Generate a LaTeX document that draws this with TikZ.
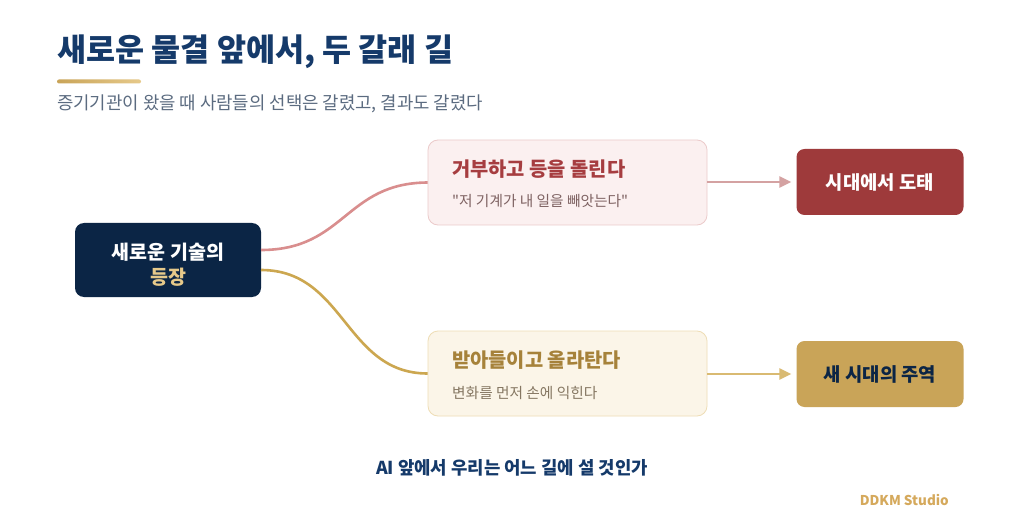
\documentclass[tikz,border=0pt]{standalone}
\usepackage{fontspec}
\setmainfont{Noto Sans CJK KR}[Ligatures=TeXOff]
\usetikzlibrary{arrows.meta}
\definecolor{navy}{HTML}{0B2545}
\definecolor{titleblue}{HTML}{153A6A}
\definecolor{subgray}{HTML}{5B6B80}
\definecolor{gold}{HTML}{C9A458}
\definecolor{goldlight}{HTML}{E6C98A}
\definecolor{redtxt}{HTML}{A63D40}
\definecolor{redfill}{HTML}{FBF0F0}
\definecolor{redline}{HTML}{EBCACA}
\definecolor{redbox}{HTML}{9E3A3B}
\definecolor{redcurve}{HTML}{D98E8E}
\definecolor{redarrow}{HTML}{D4A2A2}
\definecolor{goldtxt}{HTML}{A6823A}
\definecolor{goldfill}{HTML}{FBF5E8}
\definecolor{goldline}{HTML}{EEDDB5}
\definecolor{goldcurve}{HTML}{CCA750}
\definecolor{goldarrow}{HTML}{D9BA72}
\definecolor{redsub}{HTML}{7E6262}
\definecolor{goldsub}{HTML}{857762}
\definecolor{studio}{HTML}{D5A95C}
\tikzset{
  midbox/.style={rounded corners=10pt, minimum width=279pt, minimum height=85pt, line width=0.8pt, inner sep=0pt},
  endbox/.style={rounded corners=8pt, minimum width=167pt, minimum height=66pt, inner sep=0pt, font=\fontsize{18.8}{22}\selectfont\bfseries},
  headtxt/.style={anchor=west, inner sep=0pt, font=\fontsize{19.8}{23}\selectfont\bfseries},
  subtxt/.style={anchor=west, inner sep=0pt, font=\fontsize{14.7}{17}\selectfont},
  srctxt/.style={inner sep=0pt, font=\fontsize{19.5}{23}\selectfont\bfseries},
  curve/.style={line width=2.6pt},
  arr/.style={line width=2.4pt, -{Triangle[length=12pt,width=11pt]}}
}
\begin{document}
\begin{tikzpicture}[x=1pt,y=-1pt]
\useasboundingbox[fill=white] (0,0) rectangle (1024,521);
% title
\node[anchor=west, inner sep=0pt, text=titleblue, font=\fontsize{31.6}{36}\selectfont\bfseries] (title) at (57,52) {새로운 물결 앞에서, 두 갈래 길};
\shade[left color=gold, right color=goldlight, rounded corners=2pt] (57,79.5) rectangle (141,83.5);
\node[anchor=west, inner sep=0pt, text=subgray, font=\fontsize{17.8}{21}\selectfont] (sub) at (57,104) {증기기관이 왔을 때 사람들의 선택은 갈렸고, 결과도 갈렸다};
% left node
\node[fill=navy, rounded corners=9pt, minimum width=186pt, minimum height=74pt, inner sep=0pt] (src) at (168,260) {};
\node[srctxt, text=white] (src1) at (168,252) {새로운 기술의};
\node[srctxt, text=goldlight] (src2) at (168,277) {등장};
% middle boxes
\node[midbox, fill=redfill, draw=redline] (rej) at (567.5,182.5) {};
\node[headtxt, text=redtxt] (rejh) at (452,169) {거부하고 등을 돌린다};
\node[subtxt, text=redsub] (rejs) at (452,201.5) {"저 기계가 내 일을 빼앗는다"};
\node[midbox, fill=goldfill, draw=goldline] (acc) at (567.5,373.5) {};
\node[headtxt, text=goldtxt] (acch) at (452,360) {받아들이고 올라탄다};
\node[subtxt, text=goldsub] (accs) at (452,392.5) {변화를 먼저 손에 익힌다};
% end boxes
\node[endbox, fill=redbox, text=white] (out1) at (880,182) {시대에서 도태};
\node[endbox, fill=gold, text=navy] (out2) at (880,374) {새 시대의 주역};
% curves
\coordinate (s1) at (261,250);
\coordinate (s2) at (261,270);
\draw[curve, redcurve] (s1) .. controls (345,250) and (345,183) .. (rej.west);
\draw[curve, goldcurve] (s2) .. controls (345,270) and (345,373.5) .. (acc.west);
% arrows
\draw[arr, redarrow] (rej.east |- out1.west) -- ([xshift=-5pt]out1.west);
\draw[arr, goldarrow] (acc.east |- out2.west) -- ([xshift=-5pt]out2.west);
% bottom
\node[inner sep=0pt, text=titleblue, font=\fontsize{17.8}{21}\selectfont\bfseries] (q) at (512,468) {AI 앞에서 우리는 어느 길에 설 것인가};
\node[anchor=east, inner sep=0pt, text=studio, font=\fontsize{13.5}{16}\selectfont\bfseries] (studio) at (949,500) {DDKM Studio};
\end{tikzpicture}
\end{document}
